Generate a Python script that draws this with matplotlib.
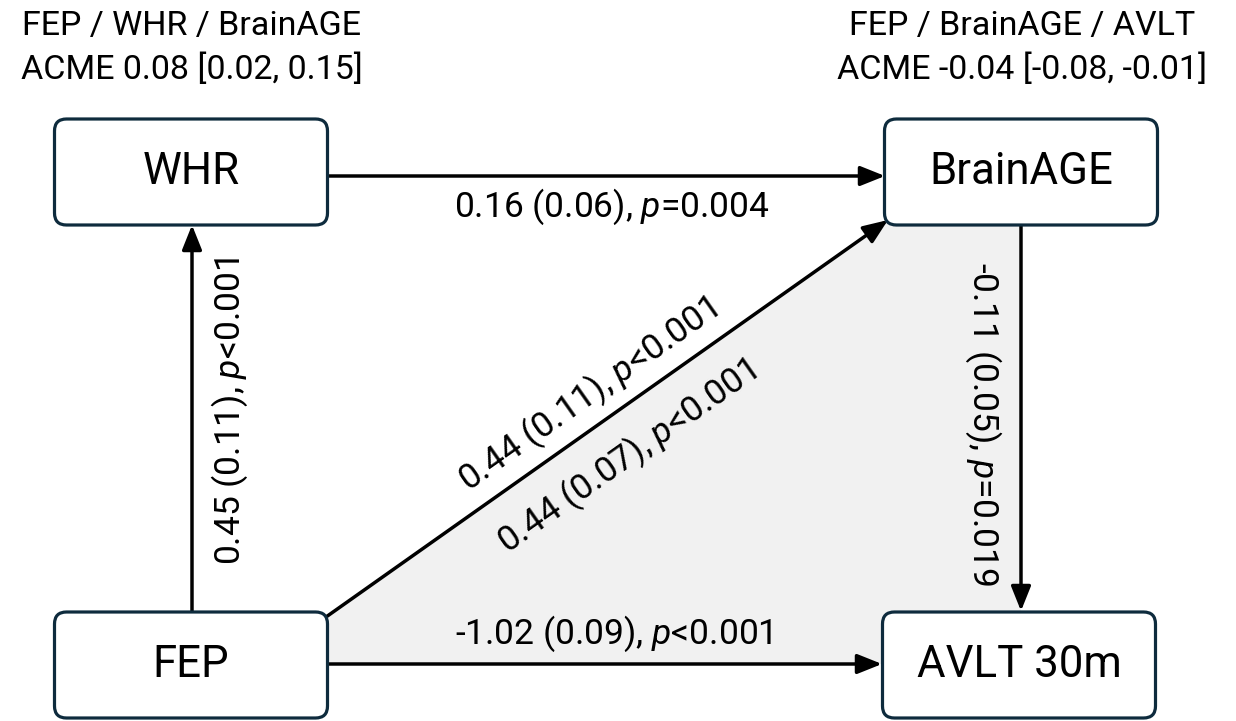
import matplotlib.pyplot as plt
from matplotlib.patches import FancyBboxPatch, Polygon

plt.rcParams['font.family'] = ['Roboto', 'DejaVu Sans']
plt.rcParams['mathtext.fontset'] = 'custom'
plt.rcParams['mathtext.rm'] = 'Roboto'
plt.rcParams['mathtext.it'] = 'Roboto:italic'

# nodes of the path diagram
nodes = ['WHR', 'BrainAGE', 'FEP', 'AVLT 30m']
node_xy = {'WHR': (191, 172), 'BrainAGE': (1021, 172),
           'FEP': (191, 665), 'AVLT 30m': (1019, 665)}

# path estimates
paths = [('WHR', 'BrainAGE'), ('FEP', 'WHR'), ('FEP', 'BrainAGE'),
         ('BrainAGE', 'AVLT 30m'), ('FEP', 'AVLT 30m')]
path_labels = ['0.16 (0.06), $p$=0.004', '0.45 (0.11), $p$<0.001',
               '0.44 (0.11), $p$<0.001', '-0.11 (0.05), $p$=0.019',
               '-1.02 (0.09), $p$<0.001']
direct_label = '0.44 (0.07), $p$<0.001'

titles = [['FEP / WHR / BrainAGE', 'ACME 0.08 [0.02, 0.15]'],
          ['FEP / BrainAGE / AVLT', 'ACME -0.04 [-0.08, -0.01]']]

fig = plt.figure(figsize=(12.36, 7.21), dpi=100)
ax = fig.add_axes([0, 0, 1, 1])
ax.set_xlim(0, 1236)
ax.set_ylim(721, 0)
ax.axis('off')

bw, bh = 273, 106
edge = '#0e2b3d'

# shaded mediation triangle
ax.add_patch(Polygon([(326, 617), (888, 220), (1021, 220), (1021, 664), (326, 664)],
                     closed=True, fc='#f1f1f1', ec='none', zorder=0))

for n in nodes:
    x, y = node_xy[n]
    ax.add_patch(FancyBboxPatch((x - bw / 2 + 12, y - bh / 2 + 12), bw - 24, bh - 24,
                                boxstyle='round,pad=12', fc='white', ec=edge, lw=2.3, zorder=3))
    ax.text(x, y, n, ha='center', va='center', fontsize=31.5, zorder=4)


def arrow(p0, p1):
    ax.annotate('', xy=p1, xytext=p0, zorder=2,
                arrowprops=dict(arrowstyle='-|>,head_length=0.75,head_width=0.3',
                                lw=2.5, color='black', shrinkA=0, shrinkB=0,
                                mutation_scale=20))


arrow((328, 176), (885, 176))
arrow((192, 611), (192, 225))
arrow((326, 617), (888, 220))
arrow((1021, 225), (1021, 611))
arrow((328, 664), (882, 664))

fs = 25.5
ax.text(612, 207, path_labels[0], ha='center', va='center', fontsize=fs)
ax.text(230, 411, path_labels[1], ha='center', va='center', fontsize=fs, rotation=90)
ax.text(588, 395, path_labels[2], ha='center', va='center', fontsize=fs, rotation=35.2,
        rotation_mode='anchor')
ax.text(627, 457, direct_label, ha='center', va='center', fontsize=fs, rotation=35.2,
        rotation_mode='anchor')
ax.text(983, 424, path_labels[3], ha='center', va='center', fontsize=fs, rotation=270)
ax.text(614, 634, path_labels[4], ha='center', va='center', fontsize=fs)

for cx, t in zip([192, 1022], titles):
    ax.text(cx, 26, t[0], ha='center', va='center', fontsize=24.5)
    ax.text(cx, 70, t[1], ha='center', va='center', fontsize=24.5)

fig.savefig('out.png', dpi=100)
